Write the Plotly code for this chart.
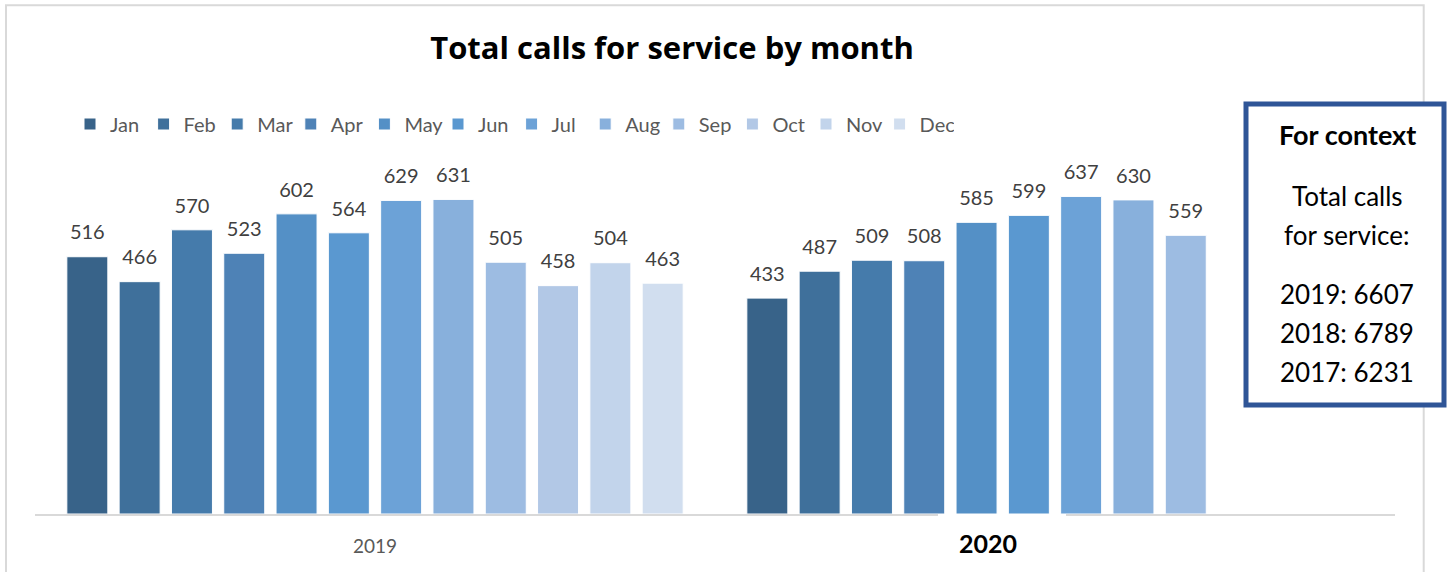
import plotly.graph_objects as go

# ---------------- data ----------------
years = ["2019", "2020"]
months = ["Jan", "Feb", "Mar", "Apr", "May", "Jun",
          "Jul", "Aug", "Sep", "Oct", "Nov", "Dec"]
calls_2019 = [516, 466, 570, 523, 602, 564, 629, 631, 505, 458, 504, 463]
calls_2020 = [433, 487, 509, 508, 585, 599, 637, 630, 559, None, None, None]
month_colors = ["#386389", "#3F709B", "#457BAB", "#4E82B6", "#5490C6", "#5A98D0",
                "#6CA2D7", "#88B0DC", "#9DBCE2", "#B2C8E6", "#C2D4EB", "#D1DEEF"]
title_text = "Total calls for service by month"
context_title = "For context"
context_lines = ["Total calls", "for service:"]
context_years = ["2019", "2018", "2017"]
context_totals = [6607, 6789, 6231]

# ---------------- layout geometry (pixels) ----------------
W, H = 1447, 572
ML, MR, MT, MB = 35, 52, 165, 58
PW, PH = W - ML - MR, H - MT - MB
FONT = "Lato"


def px(xp):
    return (xp - ML) / PW


def py(yp):
    return (H - MB - yp) / PH


fig = go.Figure()

gap = 0.077
for i, m in enumerate(months):
    fig.add_trace(go.Bar(
        name=m, x=years, y=[calls_2019[i], calls_2020[i]],
        marker=dict(color=month_colors[i], line=dict(color="white", width=1)),
        hoverinfo="skip",
    ))
for i, m in enumerate(months):
    fig.add_trace(go.Scatter(
        x=years, y=[calls_2019[i], calls_2020[i]],
        mode="markers+text",
        text=[str(v) if v is not None else "" for v in (calls_2019[i], calls_2020[i])],
        textposition="top center",
        textfont=dict(family=FONT, size=20, color="#404040"),
        marker=dict(size=18, color="rgba(0,0,0,0)"),
        showlegend=False, hoverinfo="skip", cliponaxis=False,
    ))

shapes = [
    # outer chart border
    dict(type="rect", xref="paper", yref="paper",
         x0=px(6), x1=px(1423.7), y0=py(620), y1=py(5.3),
         line=dict(color="#D9D9D9", width=2), layer="below"),
    # white text box covering the axis behind the "2020" label
    dict(type="rect", xref="paper", yref="paper",
         x0=px(938), x1=px(1066), y0=py(535), y1=py(514),
         line=dict(width=0), fillcolor="white", layer="above"),
    # context box
    dict(type="rect", xref="paper", yref="paper",
         x0=px(1246), x1=px(1444), y0=py(405), y1=py(104),
         line=dict(color="#2F5597", width=5), fillcolor="white", layer="above"),
]

annotations = [
    dict(text="<b>2020</b>", xref="paper", yref="paper", x=px(988), y=py(543),
         xanchor="center", yanchor="middle", showarrow=False,
         font=dict(family=FONT, size=25, color="#000000")),
    dict(text="<b>" + context_title + "</b>", xref="paper", yref="paper",
         x=px(1347), y=py(135), xanchor="center", yanchor="middle", showarrow=False,
         font=dict(family=FONT, size=27, color="#000000")),
]
line_y = [196, 235]
for t, yy in zip(context_lines, line_y):
    annotations.append(dict(text=t, xref="paper", yref="paper", x=px(1347), y=py(yy),
                            xanchor="center", yanchor="middle", showarrow=False,
                            font=dict(family=FONT, size=26, color="#000000")))
for yr, tot, yy in zip(context_years, context_totals, [294, 333, 372]):
    annotations.append(dict(text=f"{yr}: {tot}", xref="paper", yref="paper",
                            x=px(1347), y=py(yy), xanchor="center", yanchor="middle",
                            showarrow=False,
                            font=dict(family=FONT, size=26, color="#000000")))

fig.update_layout(
    width=W, height=H,
    margin=dict(l=ML, r=MR, t=MT, b=MB, pad=0),
    paper_bgcolor="white", plot_bgcolor="white",
    barmode="group", bargap=gap, bargroupgap=0.216,
    scattermode="group", scattergap=gap,
    title=dict(text="<b>" + title_text + "</b>", x=672 / W, xanchor="center",
               xref="container", y=1 - 48 / H, yanchor="middle", yref="container",
               font=dict(family="Open Sans", size=31, color="#000000")),
    legend=dict(orientation="h", x=px(70), y=py(124), xanchor="left", yanchor="middle",
                font=dict(family=FONT, size=20, color="#595959"),
                entrywidth=28.6, entrywidthmode="pixels",
                traceorder="normal", itemclick=False, itemdoubleclick=False,
                bgcolor="rgba(0,0,0,0)"),
    xaxis=dict(showline=True, linecolor="#D9D9D9", linewidth=2, ticks="",
               tickvals=["2019"], ticktext=["2019"], ticklabelstandoff=14,
               tickfont=dict(family=FONT, size=19, color="#595959"),
               showgrid=False, zeroline=False, fixedrange=True),
    yaxis=dict(range=[0, 700], visible=False, showgrid=False, zeroline=False,
               fixedrange=True),
    shapes=shapes, annotations=annotations,
    showlegend=True,
)

fig.write_html("out.html", config=dict(displayModeBar=False))
